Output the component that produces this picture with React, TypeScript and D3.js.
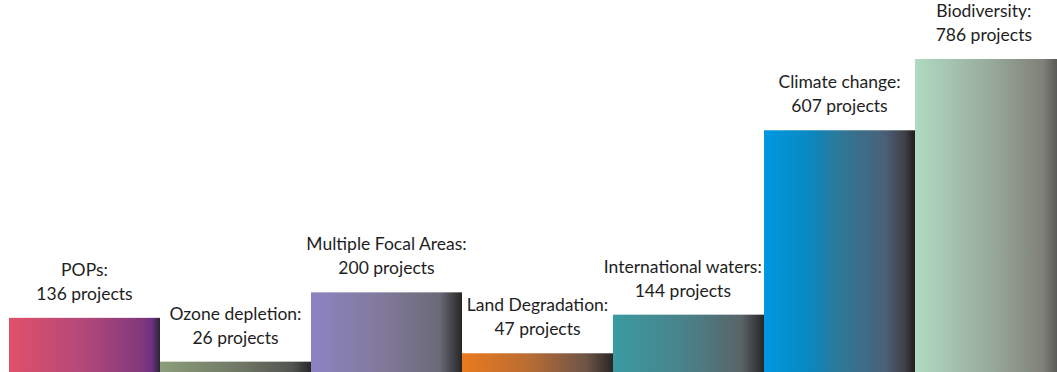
import React from "react";
import * as d3 from "d3";

const categories = [
  "POPs:",
  "Ozone depletion:",
  "Multiple Focal Areas:",
  "Land Degradation:",
  "International waters:",
  "Climate change:",
  "Biodiversity:",
];
const projects = [136, 26, 200, 47, 144, 607, 786];

const gradientStops: [number, string][][] = [
  [[0, "#e0506a"], [0.5, "#b2487a"], [0.88, "#82387c"], [0.95, "#6a3080"], [1, "#2c2434"]],
  [[0, "#8c9e7a"], [0.55, "#6e7664"], [0.88, "#505450"], [1, "#262626"]],
  [[0, "#8c84c2"], [0.5, "#807898"], [0.85, "#6a6a78"], [1, "#262626"]],
  [[0, "#ea7a1e"], [0.45, "#b86c34"], [0.82, "#6e5448"], [1, "#2a2624"]],
  [[0, "#3a9aa2"], [0.5, "#4a8088"], [0.85, "#5a6468"], [1, "#262626"]],
  [[0, "#0098e2"], [0.3, "#0888c0"], [0.5, "#2e7898"], [0.8, "#4a6078"], [0.93, "#404048"], [1, "#1e1e1e"]],
  [[0, "#b0dac2"], [0.5, "#98aa9a"], [0.85, "#808078"], [1, "#404040"]],
];

const W = 1057;
const H = 372;
const FONT = "Lato, 'Open Sans', sans-serif";
const FS = 17.5;

let measureCtx: CanvasRenderingContext2D | null = null;
function textWidth(s: string): number {
  if (!measureCtx) {
    const cv = document.createElement("canvas");
    measureCtx = cv.getContext("2d");
  }
  if (!measureCtx) return s.length * 8;
  measureCtx.font = `${FS}px ${FONT}`;
  return measureCtx.measureText(s).width;
}

export default function App() {
  const x = d3
    .scaleBand<string>()
    .domain(categories)
    .range([9, 9 + 151 * categories.length])
    .padding(0);
  const y = d3.scaleLinear().domain([0, 786]).range([H, 59]);

  return (
    <svg
      width={W}
      height={H}
      style={{ position: "absolute", left: 0, top: 0, background: "#fff" }}
    >
      <defs>
        {gradientStops.map((stops, i) => (
          <linearGradient key={i} id={`g${i}`} x1="0" y1="0" x2="1" y2="0">
            {stops.map(([o, c], j) => (
              <stop key={j} offset={o} stopColor={c} />
            ))}
          </linearGradient>
        ))}
      </defs>
      <g>
        {categories.map((c, i) => {
          const bx = x(c)!;
          const by = y(projects[i]);
          return (
            <rect
              key={c}
              x={bx}
              y={by}
              width={x.bandwidth()}
              height={H - by}
              fill={`url(#g${i})`}
            />
          );
        })}
      </g>
      <g>
        {categories.map((c, i) => {
          const by = y(projects[i]);
          let cx = x(c)! + x.bandwidth() / 2;
          const half = Math.max(textWidth(c), textWidth(`${projects[i]} projects`)) / 2;
          // keep label off a taller neighbour bar and inside the frame
          if (i < categories.length - 1 && projects[i + 1] > projects[i]) {
            const limit = x(categories[i + 1])! - 2;
            if (cx + half > limit) cx = limit - half;
          }
          if (cx + half > W - 25) cx = W - 25 - half;
          return (
            <g key={c}>
              <text
                x={cx}
                y={by - 42}
                textAnchor="middle"
                fontFamily={FONT}
                fontSize={FS}
                fill="#1e1e1e"
              >
                {c}
              </text>
              <text
                x={cx}
                y={by - 18}
                textAnchor="middle"
                fontFamily={FONT}
                fontSize={FS}
                fill="#1e1e1e"
              >
                {`${projects[i]} projects`}
              </text>
            </g>
          );
        })}
      </g>
    </svg>
  );
}
